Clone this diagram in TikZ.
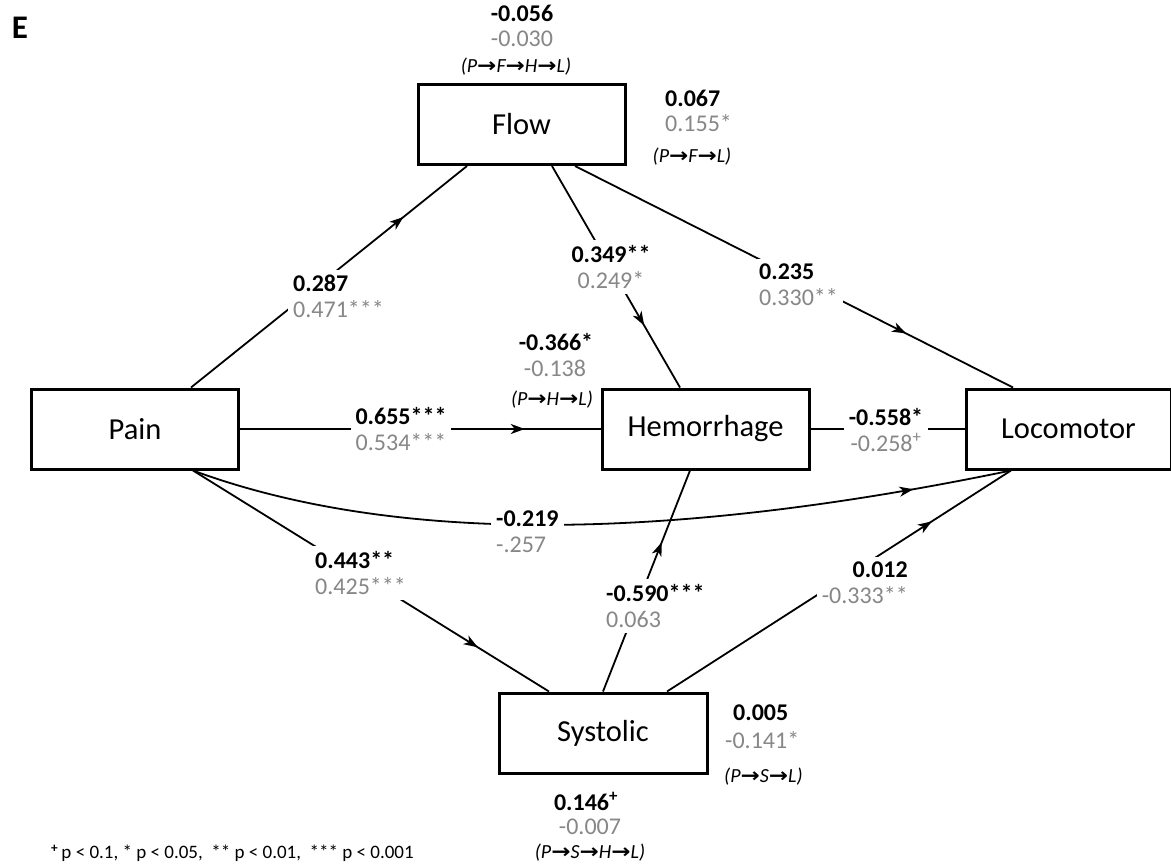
\documentclass[tikz,border=0pt]{standalone}
\usepackage{fontspec}
\setmainfont{Carlito}
\newfontfamily\arrowfont{DejaVu Sans}
\usetikzlibrary{arrows.meta,decorations.markings,calc}
\definecolor{labgray}{RGB}{135,135,135}
\newcommand{\parr}{{\arrowfont\upshape\bfseries\scalebox{1.15}[1]{→}}}
\newcommand{\gr}[1]{\textcolor{labgray}{#1}}
\tikzset{
  box/.style={draw, line width=3pt, minimum width=207pt, minimum height=80pt, inner sep=0pt,
    font=\fontsize{30.5}{36}\selectfont},
  conn/.style={line width=1.8pt},
  lab/.style={fill=white, inner xsep=5pt, inner ysep=5pt, font=\fontsize{24}{26}\selectfont},
  ind/.style={inner sep=0pt, font=\fontsize{24}{26}\selectfont},
  pth/.style={inner sep=0pt, font=\fontsize{20}{24}\selectfont\itshape},
  midarrow/.style={postaction={decorate}, decoration={markings,
    mark=at position #1 with {\arrow{Stealth[length=14pt,width=10pt,inset=4pt]}}}}
}
\begin{document}
\begin{tikzpicture}[x=1pt,y=-1pt]
\fill[white] (0,0) rectangle (1171,865);
\useasboundingbox (0,0) rectangle (1171,865);

% boxes
\node[box] (pain) at (135,429) {Pain};
\node[box] (hem) at (705.5,429) {Hemorrhage};
\node[box, minimum width=205pt] (loco) at (1068.5,429) {Locomotor};
\node[box] (flow) at (521.5,124.5) {Flow};
\node[box, minimum width=208pt] (syst) at (603,733) {Systolic};

% attachment points
\coordinate (pN) at ([xshift=56pt]pain.north);
\coordinate (pS) at ([xshift=58pt]pain.south);
\coordinate (fS1) at ([xshift=-54.5pt]flow.south);
\coordinate (fS2) at ([xshift=30.5pt]flow.south);
\coordinate (fS3) at ([xshift=53.5pt]flow.south);
\coordinate (hN) at ([xshift=-25.5pt]hem.north);
\coordinate (hS) at ([xshift=-15.5pt]hem.south);
\coordinate (lN) at ([xshift=-55.5pt]loco.north);
\coordinate (lS) at ([xshift=-57.5pt]loco.south);
\coordinate (sN1) at ([xshift=-54pt]syst.north);
\coordinate (sN2) at (syst.north);
\coordinate (sN3) at ([xshift=64pt]syst.north);
\coordinate (c1) at (390,543);
\coordinate (c2) at (662,543);

% connectors
\draw[conn, midarrow=0.77] (pN) -- (fS1);
\draw[conn, midarrow=0.72] (fS2) -- (hN);
\draw[conn, midarrow=0.756] (fS3) -- (lN);
\draw[conn, midarrow=0.79] (pain.east) -- (hem.west);
\draw[conn] (hem.east) -- (loco.west);
\draw[conn, midarrow=0.88] (pS) .. controls (c1) and (c2) .. (lS);
\draw[conn, midarrow=0.80] (pS) -- (sN1);
\draw[conn, midarrow=0.676] (sN2) -- (hS);
\draw[conn, midarrow=0.77] (sN3) -- (lS);

% path labels
\node[lab, align=left, anchor=west] (l1) at (288,296) {\textbf{0.287}\\\gr{0.471***}};
\node[lab, align=center] (l2) at (611,267) {\textbf{0.349**}\\\gr{0.249*}};
\node[lab, align=left, anchor=west] (l3) at (754,285) {\textbf{0.235}\\\gr{0.330**}};
\node[lab, align=center] (l4) at (401,429) {\textbf{0.655***}\\\gr{0.534***}};
\node[lab, align=center] (l5) at (886,430) {\textbf{-0.558*}\\\gr{-0.258\textsuperscript{+}}};
\node[lab, align=left, anchor=west] (l6) at (491,532) {\textbf{-0.219}\\\gr{-.257}};
\node[lab, align=left, anchor=west] (l7) at (310,573) {\textbf{0.443**}\\\gr{0.425***}};
\node[lab, align=left, anchor=west] (l8) at (601,606) {\textbf{-0.590***}\\\gr{0.063}};
\node[lab, align=right, anchor=east] (l9) at (913,583) {\textbf{0.012}\\\gr{-0.333**}};

% indirect effects
\node[ind] (t1) at (522,13) {\textbf{-0.056}};
\node[ind] (t2) at (522,39) {\gr{-0.030}};
\node[pth] (t3) at (516,67) {(P\parr F\parr H\parr L)};

\node[ind, anchor=west] (r1) at (665,98) {\textbf{0.067}};
\node[ind, anchor=west] (r2) at (665,123) {\gr{0.155*}};
\node[pth] (r3) at (692,157) {(P\parr F\parr L)};

\node[ind] (h1) at (556,342) {\textbf{-0.366*}};
\node[ind] (h2) at (555,368) {\gr{-0.138}};
\node[pth] (h3) at (552,400) {(P\parr H\parr L)};

\node[ind, anchor=west] (s1) at (733,713) {\textbf{0.005}};
\node[ind, anchor=west] (s2) at (725,740) {\gr{-0.141*}};
\node[pth, anchor=west] (s3) at (724,777) {(P\parr S\parr L)};

\node[ind] (b1) at (586,801) {\textbf{0.146\textsuperscript{+}}};
\node[ind] (b2) at (590,827) {\gr{-0.007}};
\node[pth] (b3) at (590,853) {(P\parr S\parr H\parr L)};

\node[inner sep=0pt, anchor=west, font=\fontsize{19}{22}\selectfont] (leg) at (51,853)
  {\textsuperscript{\textbf{+}}\,p < 0.1, * p < 0.05,~ ** p < 0.01,~ *** p < 0.001};

\node[inner sep=0pt, font=\fontsize{33}{36}\selectfont\bfseries] (E) at (20,28) {E};
\end{tikzpicture}
\end{document}
